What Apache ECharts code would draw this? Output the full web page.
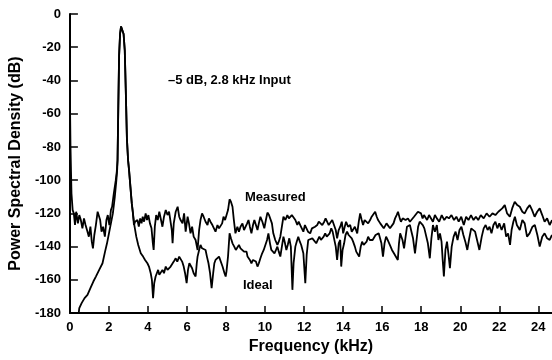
<!DOCTYPE html>
<html>
<head>
<meta charset="utf-8">
<script src="https://cdn.jsdelivr.net/npm/echarts@6/dist/echarts.min.js"></script>
<style>
  html, body { margin: 0; padding: 0; background: #fff; }
  #chart { width: 552px; height: 360px; }
</style>
</head>
<body>
<div id="chart"></div>
<script>
// [kHz, dB] pairs
const measuredLow = [
  [0, -50], [0.03, -80], [0.08, -108], [0.14, -118], [0.2, -120], [0.26, -127], [0.32, -119],
  [0.41, -126], [0.48, -121], [0.56, -124], [0.64, -129], [0.72, -123], [0.8, -127], [0.9, -131],
  [0.97, -134], [1.05, -128], [1.12, -137], [1.18, -141], [1.25, -133], [1.33, -127], [1.42, -119],
  [1.48, -118], [1.55, -124], [1.62, -131], [1.7, -128], [1.79, -134], [1.87, -124], [1.94, -121],
  [2.02, -127], [2.1, -118], [2.16, -116], [2.25, -108], [2.35, -100], [2.4, -95]
];

const idealLow = [
  [0, -180], [0.45, -180], [0.48, -177], [0.6, -174], [0.75, -171], [0.9, -169], [1.05, -165],
  [1.2, -161], [1.33, -158], [1.5, -154], [1.67, -150], [1.8, -143], [1.9, -138], [2.0, -132],
  [2.1, -126], [2.2, -120], [2.3, -110], [2.38, -100], [2.42, -94]
];

const peak = [
  [2.44, -88], [2.48, -55], [2.52, -25], [2.57, -12], [2.62, -7.5], [2.66, -7], [2.7, -8],
  [2.75, -12], [2.81, -22], [2.86, -45], [2.92, -75], [2.98, -88], [3.03, -94], [3.1, -104],
  [3.17, -114], [3.22, -119]
];

const measuredHigh = [
  [3.28, -127], [3.34, -125], [3.4, -126], [3.46, -124], [3.53, -128], [3.6, -123], [3.67, -126],
  [3.73, -122], [3.8, -125], [3.88, -120], [3.95, -124], [4.02, -121], [4.1, -126], [4.18, -129],
  [4.25, -138], [4.29, -142], [4.35, -128], [4.42, -121], [4.5, -124], [4.58, -119], [4.65, -119],
  [4.74, -128], [4.82, -122], [4.91, -118], [5.0, -121], [5.08, -119], [5.16, -120], [5.22, -130],
  [5.26, -138], [5.32, -126], [5.42, -119], [5.52, -116], [5.6, -122], [5.67, -124], [5.77, -126],
  [5.85, -120], [5.93, -131], [6.03, -122], [6.1, -126], [6.18, -132], [6.26, -128], [6.34, -134],
  [6.44, -136], [6.54, -142], [6.62, -130], [6.69, -124], [6.77, -120], [6.85, -122], [6.95, -125],
  [7.05, -127], [7.12, -123], [7.2, -125], [7.3, -127], [7.38, -129], [7.46, -131], [7.56, -127],
  [7.64, -129], [7.72, -130], [7.8, -126], [7.87, -122], [7.95, -124], [8.02, -123], [8.1, -118],
  [8.18, -111.5], [8.25, -113], [8.33, -116], [8.4, -124], [8.48, -132], [8.58, -128], [8.66, -131],
  [8.74, -128], [8.84, -126], [8.92, -130], [8.99, -130], [9.08, -126], [9.15, -124], [9.22, -128],
  [9.3, -132], [9.38, -127], [9.45, -124], [9.53, -127], [9.61, -130], [9.68, -126], [9.76, -122],
  [9.86, -125], [9.96, -129], [10.04, -124], [10.12, -119.5], [10.2, -121], [10.27, -120],
  [10.35, -126], [10.42, -132], [10.52, -136], [10.63, -139], [10.7, -137], [10.78, -134],
  [10.86, -128], [10.94, -122], [11.04, -124], [11.14, -121], [11.22, -123], [11.29, -124],
  [11.37, -121], [11.45, -120], [11.55, -124], [11.65, -127], [11.72, -125], [11.8, -127],
  [11.88, -129], [11.96, -131], [12.04, -127], [12.11, -128], [12.2, -131], [12.31, -132],
  [12.4, -129], [12.47, -130], [12.56, -128], [12.67, -127], [12.75, -125], [12.83, -124],
  [12.93, -127], [13.03, -125], [13.1, -123], [13.18, -123], [13.26, -127], [13.34, -126],
  [13.44, -124], [13.54, -124], [13.62, -130], [13.69, -135], [13.77, -130], [13.85, -128],
  [13.93, -125], [14.0, -132], [14.08, -128], [14.15, -125], [14.25, -128], [14.36, -127],
  [14.44, -131], [14.51, -130], [14.6, -128], [14.72, -132], [14.8, -125], [14.87, -120],
  [14.95, -124], [15.02, -127], [15.1, -124], [15.18, -124], [15.28, -126], [15.38, -124],
  [15.46, -122], [15.53, -123], [15.64, -119], [15.72, -122], [15.79, -124], [15.9, -126],
  [15.99, -127], [16.08, -129], [16.15, -130], [16.22, -126], [16.3, -125], [16.4, -129],
  [16.5, -128], [16.58, -126], [16.66, -123], [16.74, -121], [16.81, -119], [16.9, -123],
  [16.96, -125], [17.05, -123], [17.12, -122], [17.2, -124], [17.32, -123], [17.42, -125],
  [17.5, -124], [17.63, -122], [17.73, -121], [17.83, -119], [17.92, -118.5], [17.99, -120],
  [18.07, -123], [18.14, -121], [18.22, -122], [18.3, -124], [18.4, -121], [18.5, -122],
  [18.6, -125], [18.7, -121], [18.8, -123], [18.92, -125], [19.05, -121], [19.18, -124],
  [19.3, -122], [19.42, -123], [19.55, -121], [19.68, -124], [19.8, -122], [19.92, -125],
  [20.05, -122], [20.18, -127], [20.3, -122], [20.42, -124], [20.55, -121], [20.68, -124],
  [20.8, -122], [20.92, -124], [21.05, -121], [21.2, -123], [21.35, -120], [21.5, -122],
  [21.65, -120], [21.8, -121], [21.95, -119], [22.02, -119], [22.15, -117], [22.28, -115],
  [22.4, -120], [22.54, -122], [22.66, -117], [22.79, -113], [22.92, -115], [23.05, -116],
  [23.18, -119], [23.3, -120], [23.43, -117], [23.56, -115], [23.68, -118], [23.81, -122],
  [23.94, -119], [24.07, -117], [24.2, -121], [24.32, -125], [24.45, -123], [24.58, -127],
  [24.7, -124]
];

const idealHigh = [
  [3.3, -127], [3.4, -134], [3.5, -139], [3.63, -144], [3.75, -146], [3.85, -148], [3.97, -150],
  [4.05, -152], [4.14, -156], [4.2, -160], [4.26, -171], [4.32, -162], [4.39, -158], [4.45, -158],
  [4.52, -154], [4.58, -157], [4.65, -156], [4.74, -154], [4.82, -156], [4.91, -152], [5.0, -154],
  [5.08, -153], [5.16, -152], [5.25, -151], [5.32, -149], [5.42, -147], [5.5, -149], [5.6, -146],
  [5.67, -146], [5.75, -149], [5.83, -152], [5.9, -156], [5.98, -162], [6.05, -154], [6.12, -150],
  [6.18, -150], [6.26, -153], [6.34, -156], [6.44, -158], [6.5, -150], [6.54, -146], [6.62, -142],
  [6.69, -139], [6.77, -141], [6.85, -140], [6.95, -142], [7.02, -146], [7.1, -150], [7.18, -156],
  [7.26, -165], [7.34, -156], [7.4, -150], [7.46, -148], [7.55, -147], [7.64, -146], [7.72, -146],
  [7.82, -152], [7.92, -156], [7.98, -158], [8.02, -155], [8.1, -146], [8.18, -132], [8.25, -135],
  [8.33, -138], [8.42, -140], [8.5, -142], [8.58, -142], [8.66, -139], [8.74, -141], [8.84, -140],
  [8.92, -143], [8.99, -142], [9.05, -143], [9.1, -146], [9.15, -145], [9.22, -148], [9.3, -150],
  [9.38, -148], [9.45, -147], [9.53, -149], [9.61, -152], [9.68, -150], [9.76, -147], [9.85, -144],
  [9.93, -142], [10.02, -141], [10.1, -136], [10.17, -132], [10.25, -138], [10.32, -142],
  [10.4, -143], [10.48, -144], [10.56, -142], [10.63, -140], [10.7, -143], [10.78, -146],
  [10.86, -140], [10.94, -134], [11.02, -138], [11.09, -142], [11.16, -139], [11.24, -135],
  [11.32, -140], [11.4, -166], [11.46, -150], [11.55, -140], [11.62, -137], [11.7, -134],
  [11.78, -137], [11.85, -139], [11.96, -144], [12.06, -162], [12.13, -145], [12.21, -136],
  [12.3, -137], [12.42, -135], [12.52, -136], [12.62, -138], [12.7, -136], [12.78, -134],
  [12.86, -136], [12.93, -137], [13.0, -134], [13.08, -132], [13.16, -134], [13.23, -135],
  [13.31, -132], [13.39, -129], [13.46, -131], [13.54, -132], [13.62, -140], [13.69, -148],
  [13.77, -138], [13.85, -136], [13.9, -152], [13.97, -142], [14.05, -138], [14.12, -133],
  [14.2, -131], [14.28, -133], [14.36, -134], [14.44, -135], [14.51, -137], [14.6, -140],
  [14.67, -143], [14.75, -144], [14.82, -146], [14.9, -140], [14.97, -137], [15.05, -139],
  [15.13, -140], [15.2, -137], [15.28, -134], [15.36, -136], [15.43, -137], [15.51, -136],
  [15.59, -135], [15.66, -133], [15.74, -132], [15.82, -132], [15.89, -131], [15.96, -138],
  [16.04, -146], [16.12, -138], [16.2, -134], [16.28, -136], [16.35, -137], [16.43, -140],
  [16.5, -142], [16.6, -144], [16.8, -148], [16.86, -138], [16.92, -132], [16.98, -131],
  [17.04, -136], [17.12, -141], [17.2, -134], [17.27, -128], [17.35, -128], [17.42, -127],
  [17.5, -131], [17.58, -135], [17.68, -144], [17.76, -136], [17.84, -128], [17.92, -125],
  [18.0, -126], [18.08, -127], [18.16, -129], [18.24, -130], [18.34, -138], [18.44, -147],
  [18.52, -135], [18.6, -127], [18.7, -131], [18.8, -127], [18.88, -136], [18.96, -132],
  [19.04, -137], [19.1, -148], [19.16, -158], [19.24, -142], [19.32, -137], [19.4, -145],
  [19.47, -153], [19.56, -140], [19.66, -134], [19.76, -131], [19.86, -136], [19.96, -130],
  [20.06, -128], [20.16, -133], [20.26, -137], [20.36, -142], [20.46, -135], [20.56, -129],
  [20.66, -128], [20.76, -131], [20.86, -136], [20.98, -142], [21.1, -134], [21.2, -129],
  [21.3, -127], [21.4, -130], [21.5, -128], [21.6, -132], [21.7, -127], [21.8, -125],
  [21.9, -129], [22.0, -126], [22.12, -130], [22.25, -126], [22.35, -134], [22.45, -132],
  [22.55, -139], [22.63, -130], [22.72, -125], [22.8, -122], [22.9, -127], [23.05, -130],
  [23.18, -124], [23.3, -126], [23.42, -134], [23.55, -132], [23.7, -128], [23.82, -127],
  [23.95, -133], [24.07, -140], [24.2, -134], [24.32, -132], [24.45, -135], [24.58, -136],
  [24.7, -133]
];

const measured = measuredLow.concat(peak, measuredHigh);
const ideal = idealLow.concat(peak, idealHigh);

const FONT = '"Liberation Sans", Arial, Helvetica, sans-serif';

const chart = echarts.init(document.getElementById('chart'));

const lineSeries = (name, data) => ({
  name,
  type: 'line',
  data,
  showSymbol: false,
  silent: true,
  lineStyle: { color: '#000', width: 1.8 },
  z: 3
});

chart.setOption({
  animation: false,
  backgroundColor: '#fff',
  grid: { left: 69, right: 0, top: 14, bottom: 43 },
  xAxis: {
    type: 'value',
    min: 0,
    max: 24.7,
    interval: 2,
    name: 'Frequency (kHz)',
    nameLocation: 'middle',
    nameGap: 19,
    nameTextStyle: { fontFamily: FONT, fontWeight: 'bold', fontSize: 16, color: '#000' },
    axisLine: { onZero: false, lineStyle: { color: '#000', width: 2 } },
    axisTick: { inside: true, length: 7, lineStyle: { color: '#000', width: 1.5 } },
    axisLabel: {
      fontFamily: FONT, fontWeight: 'bold', fontSize: 13, color: '#000', margin: 8,
      showMaxLabel: false
    },
    splitLine: { show: false }
  },
  yAxis: {
    type: 'value',
    min: -180,
    max: 0,
    interval: 20,
    name: 'Power Spectral Density (dB)',
    nameLocation: 'middle',
    nameRotate: 90,
    nameGap: 40,
    nameTextStyle: { fontFamily: FONT, fontWeight: 'bold', fontSize: 16, color: '#000' },
    axisLine: { show: true, onZero: false, lineStyle: { color: '#000', width: 2 } },
    axisTick: { show: true, inside: true, length: 8, lineStyle: { color: '#000', width: 1.5 } },
    axisLabel: { fontFamily: FONT, fontWeight: 'bold', fontSize: 13, color: '#000', margin: 9 },
    splitLine: { show: false }
  },
  graphic: [
    {
      type: 'text', x: 168, y: 80,
      style: { text: '\u20135 dB, 2.8 kHz Input', font: 'bold 13px ' + FONT, fill: '#000', verticalAlign: 'middle' }
    },
    {
      type: 'text', x: 245, y: 197,
      style: { text: 'Measured', font: 'bold 13px ' + FONT, fill: '#000', verticalAlign: 'middle' }
    },
    {
      type: 'text', x: 243, y: 285,
      style: { text: 'Ideal', font: 'bold 13px ' + FONT, fill: '#000', verticalAlign: 'middle' }
    }
  ],
  series: [lineSeries('Measured', measured), lineSeries('Ideal', ideal)]
});
</script>
</body>
</html>
